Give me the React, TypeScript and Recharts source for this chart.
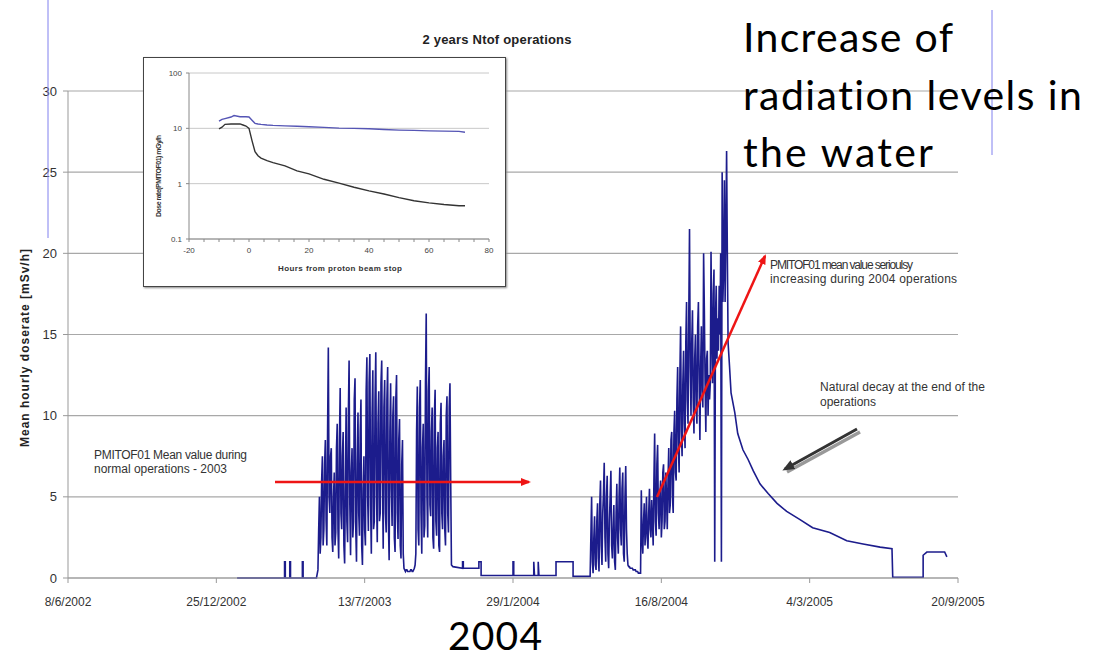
import { LineChart, Line, XAxis, YAxis, CartesianGrid } from "recharts";

const NARROW = "'Liberation Sans Narrow', 'Liberation Sans', Arial, sans-serif";
const SLIDE = "Lato, 'Open Sans', sans-serif";

// x values are days counted from 8/6/2002
const dateTicks = [0, 200, 400, 600, 800, 1000, 1200];
const dateLabels = ["8/6/2002", "25/12/2002", "13/7/2003", "29/1/2004", "16/8/2004", "4/3/2005", "20/9/2005"];
const doseTicks = [0, 5, 10, 15, 20, 25, 30];

const sampleStep = 1; // one reading per day in the busy periods

const idle2003: [number, number][] = [
  [228, 0], [292, 0], [292, 1.0], [293, 1.0], [293, 0], [299, 0], [299, 1.0], [300, 1.0], [300, 0],
  [316, 0], [316, 1.0], [317, 1.0], [317, 0], [335, 0],
];

const run2003Start = 337;
const run2003Dose = [
  0.5, 3.0, 5.0, 1.5, 2.5, 6.0, 7.5, 2.0, 3.0, 7.0,
  8.5, 3.5, 2.0, 9.0, 14.2, 5.0, 4.0, 7.5, 8.0, 2.5,
  1.6, 5.0, 6.5, 2.0, 2.8, 8.0, 9.5, 3.0, 1.2, 8.5,
  11.7, 4.0, 3.0, 7.5, 9.0, 2.0, 0.9, 6.0, 10.5, 3.5,
  2.2, 10.0, 13.4, 4.5, 1.4, 6.5, 8.0, 2.5, 3.5, 11.0,
  12.3, 3.0, 1.0, 7.0, 10.2, 4.0, 2.6, 9.0, 11.0, 2.0,
  0.8, 5.5, 7.5, 3.0, 2.0, 11.5, 13.6, 5.0, 2.9, 12.0,
  13.8, 4.5, 1.5, 10.0, 12.8, 3.0, 3.5, 11.0, 13.9, 5.0,
  2.2, 9.5, 11.5, 3.5, 4.0, 12.0, 13.4, 6.0, 1.8, 10.5,
  12.2, 4.0, 2.8, 11.0, 13.0, 3.5, 1.1, 9.0, 12.0, 5.5,
  3.2, 10.0, 11.2, 2.5, 1.6, 11.0, 12.5, 4.0, 2.4, 8.5,
  9.8, 2.0, 1.2, 7.0, 8.5, 1.5, 0.6, 0.5, 0.4, 0.5,
  0.5, 0.4, 0.4, 0.4, 0.4, 0.5, 0.5, 0.4, 0.4, 0.5,
  0.6, 0.8, 1.5, 9.0, 11.8, 3.0, 2.0, 10.5, 12.2, 4.0,
  1.5, 8.0, 9.5, 2.5, 3.2, 12.0, 16.3, 5.0, 2.5, 11.5,
  13.0, 4.5, 3.8, 9.0, 10.5, 2.5, 1.8, 10.0, 11.6, 3.5,
  2.6, 8.0, 9.0, 2.0, 1.6, 9.5, 10.8, 4.0, 3.0, 7.5,
  8.5, 3.0, 2.0, 10.0, 11.2, 4.0, 2.8, 10.5, 12.0, 6.0,
  0.8,
];

const idle2004: [number, number][] = [
  [519, 0.7], [532, 0.6], [532, 1.0], [533, 1.0], [533, 0.6], [554, 0.6], [554, 1.0], [557, 1.0],
  [557, 0.15], [600, 0.15], [600, 1.0], [601, 1.0], [601, 0.15], [628, 0.15], [628, 1.0], [629, 0.15],
  [634, 0.15], [634, 1.0], [635, 0.15], [658, 0.15], [658, 1.0], [681, 1.0], [681, 0.1], [704, 0.1],
];

const run2004Start = 706;
const run2004Dose = [
  5.0, 1.0, 0.3, 2.5, 3.8, 0.8, 0.5, 3.5, 4.6, 1.2,
  0.4, 4.5, 6.0, 2.0, 0.8, 4.0, 5.2, 7.1, 2.5, 1.0,
  5.0, 6.3, 1.5, 0.6, 3.5, 5.0, 6.6, 2.0, 1.2, 3.0,
  4.5, 1.0, 0.5, 4.0, 5.8, 2.5, 1.5, 5.0, 6.8, 3.0,
  2.0, 5.5, 6.5, 1.5, 1.0, 5.0, 6.9, 3.0, 1.5, 0.8,
  0.7, 0.7, 0.6, 0.6, 0.6, 0.6, 0.5, 0.5, 0.5, 0.5,
  0.4, 0.4, 0.4, 0.3, 0.3, 0.3, 0.3, 5.4, 2.5, 1.5,
  3.5, 4.6, 2.0, 3.0, 5.0, 2.5, 1.8, 4.0, 5.5, 3.0,
  2.5, 4.8, 3.5, 2.0, 6.0, 8.9, 3.5, 2.6, 7.0, 8.2,
  4.0, 3.0, 5.0, 6.0, 2.5, 3.5, 6.5, 7.0, 3.0, 3.5,
  6.5, 5.0, 3.0, 6.0, 8.0, 4.0, 4.5, 8.5, 9.0, 5.0,
  4.0, 9.0, 10.3, 6.5, 6.0, 11.0, 13.0, 8.0, 6.5, 12.5,
  15.5, 9.0, 7.5, 12.0, 14.0, 9.5, 8.0, 14.5, 17.0, 11.0,
  9.5, 16.0, 21.5, 13.0, 10.0, 14.5, 16.5, 11.0, 8.9, 13.5,
  15.0, 10.5, 9.5, 15.5, 17.0, 12.0, 8.5, 13.0, 15.5, 11.5,
  10.5, 20.0, 16.5, 12.0, 9.0, 13.5, 14.0, 10.0, 12.5, 11.0,
  12.0, 20.1, 15.0, 12.0, 17.5, 19.0, 1.0, 16.0, 18.0, 13.5,
  16.0, 14.0, 18.0, 15.0, 20.0, 1.0, 25.0, 17.0, 19.0, 24.5,
  17.0, 21.0, 26.3, 20.0, 14.5,
];

const decay2005: [number, number][] = [
  [892, 13.0], [894, 11.4], [899, 10.2], [903, 8.9], [910, 7.9], [917, 7.3], [924, 6.6], [933, 5.8],
  [944, 5.2], [956, 4.6], [969, 4.1], [987, 3.6], [1004, 3.1], [1027, 2.8], [1050, 2.3], [1072, 2.1],
  [1095, 1.9], [1111, 1.8], [1112, 0.05], [1153, 0.05], [1153, 1.4], [1158, 1.6], [1182, 1.6], [1185, 1.3],
];

// inset: hours from proton beam stop
const insetHours = [-10, -9, -8, -6, -5, -3, -2, -1, 0, 1, 2, 3, 4, 6, 8, 12, 16, 20, 25, 30, 35, 40, 45, 50, 55, 60, 65, 70, 72];
const insetUpper = [13.5, 14.5, 15, 16, 17, 16.2, 16.2, 16.2, 16, 14, 12.3, 12, 11.8, 11.5, 11.3, 11.1, 10.9, 10.7, 10.4, 10.1, 10, 9.8, 9.5, 9.3, 9.2, 9.0, 8.9, 8.8, 8.5];
const insetLower = [9.8, 10.5, 11.8, 12, 12, 12, 11.5, 11, 10, 6, 3.8, 3.2, 2.9, 2.6, 2.4, 2.1, 1.7, 1.5, 1.2, 1.02, 0.86, 0.74, 0.65, 0.56, 0.49, 0.45, 0.42, 0.4, 0.4];
const insetHourTicks = [-20, -15, -10, -5, 0, 5, 10, 15, 20, 25, 30, 35, 40, 45, 50, 55, 60, 65, 70, 75, 80];
const insetDoseTicks = [0.1, 1, 10, 100];

const doseData = [
  ...idle2003.map(([day, dose]) => ({ day, dose })),
  ...run2003Dose.map((dose, i) => ({ day: run2003Start + i * sampleStep, dose })),
  ...idle2004.map(([day, dose]) => ({ day, dose })),
  ...run2004Dose.map((dose, i) => ({ day: run2004Start + i * sampleStep, dose })),
  ...decay2005.map(([day, dose]) => ({ day, dose })),
];

const insetData = insetHours.map((h, i) => ({ h, upper: insetUpper[i], lower: insetLower[i] }));

const Inset = () => (
  <div
    style={{
      position: "absolute", left: 143, top: 57, width: 363, height: 230, boxSizing: "border-box",
      background: "#fff", border: "1px solid #444", boxShadow: "1px 1px 2px #888",
    }}
  >
    <LineChart width={361} height={228} data={insetData} margin={{ top: 15, right: 16, bottom: 29, left: 0 }}>
      <CartesianGrid horizontal vertical={false} stroke="#c8c8c8" />
      <XAxis
        type="number" dataKey="h" domain={[-20, 80]} ticks={insetHourTicks} interval={0} height={18}
        tickFormatter={(v) => (v % 20 === 0 ? String(v) : "")}
        tick={{ fontSize: 8, fill: "#444", fontFamily: NARROW }}
        tickSize={3} tickMargin={5} axisLine={{ stroke: "#888" }} tickLine={{ stroke: "#888" }}
      />
      <YAxis
        scale="log" domain={[0.1, 100]} ticks={insetDoseTicks} interval={0} width={45} allowDataOverflow
        tickFormatter={(v) => String(v)}
        tick={{ fontSize: 8, fill: "#444", fontFamily: NARROW }}
        tickSize={3} tickMargin={4} axisLine={{ stroke: "#888" }} tickLine={{ stroke: "#888" }}
      />
      <Line dataKey="upper" stroke="#5555b5" strokeWidth={1.4} dot={false} isAnimationActive={false} />
      <Line dataKey="lower" stroke="#333" strokeWidth={1.4} dot={false} isAnimationActive={false} />
    </LineChart>
  </div>
);

const Overlay = () => (
  <svg width={1095} height={659} style={{ position: "absolute", left: 0, top: 0, pointerEvents: "none" }}>
    <defs>
      <marker id="redHead" markerWidth="10" markerHeight="8" refX="8" refY="4" orient="auto" markerUnits="userSpaceOnUse">
        <path d="M0,0 L10,4 L0,8 z" fill="#ee1515" />
      </marker>
      <marker id="darkHead" markerWidth="12" markerHeight="10" refX="9" refY="5" orient="auto" markerUnits="userSpaceOnUse">
        <path d="M0,0 L12,5 L0,10 z" fill="#333" />
      </marker>
    </defs>

    {/* slide leftovers */}
    <line x1={48} y1={0} x2={48} y2={238} stroke="#8080ee" strokeWidth={1} />
    <line x1={992} y1={10} x2={992} y2={155} stroke="#8080ee" strokeWidth={1} />

    <text x={497} y={44} textAnchor="middle" fontFamily={NARROW} fontWeight="bold" fontSize={13} fill="#222" textLength={149}>
      2 years Ntof operations
    </text>

    <text transform="translate(29,348) rotate(-90)" textAnchor="middle" fontFamily={NARROW} fontWeight="bold" fontSize={12} fill="#222" textLength={198}>
      Mean hourly doserate [mSv/h]
    </text>

    <text transform="translate(161,176) rotate(-90)" textAnchor="middle" fontFamily={NARROW} fontWeight="bold" fontSize={7} fill="#333" textLength={82}>
      Dose rate(PMITOF01) mGy/h
    </text>
    <text x={340} y={271} textAnchor="middle" fontFamily={NARROW} fontWeight="bold" fontSize={8} fill="#333" textLength={124}>
      Hours from proton beam stop
    </text>

    <g fontFamily={NARROW} fontSize={12} fill="#333">
      <text x={94} y={459} textLength={153}>PMITOF01 Mean value during</text>
      <text x={94} y={473} textLength={133}>normal operations - 2003</text>
      <text x={770} y={269} textLength={143}>PMITOF01 mean value serioulsy</text>
      <text x={770} y={283} textLength={187}>increasing during 2004 operations</text>
      <text x={820} y={391} textLength={165}>Natural decay at the end of the</text>
      <text x={820} y={406} textLength={56}>operations</text>
    </g>

    <line x1={275} y1={482} x2={529} y2={482} stroke="#ee1515" strokeWidth={2.5} markerEnd="url(#redHead)" />
    <line x1={657} y1={497} x2={765} y2={256} stroke="#ee1515" strokeWidth={2.5} markerEnd="url(#redHead)" />
    <line x1={859} y1={430} x2={786} y2={470} stroke="#999" strokeWidth={3.5} transform="translate(1,2)" />
    <line x1={857} y1={429} x2={785} y2={469} stroke="#333" strokeWidth={3} markerEnd="url(#darkHead)" />

    <g fontFamily={SLIDE} fill="#000" style={{ fontVariantLigatures: "none" }}>
      <text x={743} y={52} fontSize={41} textLength={210}>Increase of</text>
      <text x={743} y={110} fontSize={41} textLength={339}>radiation levels in</text>
      <text x={743} y={167} fontSize={41} textLength={190}>the water</text>
      <text x={448} y={650} fontSize={39} textLength={94}>2004</text>
    </g>
  </svg>
);

export default function App() {
  return (
    <div style={{ position: "absolute", left: 0, top: 0, width: 1095, height: 659, background: "#fff", overflow: "hidden" }}>
      <LineChart width={1095} height={659} data={doseData} margin={{ top: 91, right: 137, bottom: 51, left: 0 }}>
        <CartesianGrid horizontal vertical={false} stroke="#a8a8a8" strokeWidth={1.2} />
        <XAxis
          type="number" dataKey="day" domain={[0, 1200]} ticks={dateTicks} interval={0} height={30}
          tickFormatter={(v) => dateLabels[dateTicks.indexOf(v)]}
          tick={{ fontSize: 12, fill: "#333", fontFamily: NARROW }}
          tickSize={5} tickMargin={14} axisLine={{ stroke: "#999" }} tickLine={{ stroke: "#999" }}
        />
        <YAxis
          type="number" domain={[0, 30]} ticks={doseTicks} interval={0} width={68}
          tick={{ fontSize: 13, fill: "#333", fontFamily: "'Liberation Sans', Arial, sans-serif" }}
          tickSize={5} tickMargin={6} axisLine={{ stroke: "#999" }} tickLine={{ stroke: "#999" }}
        />
        <Line type="linear" dataKey="dose" stroke="#1c1c8c" strokeWidth={1.6} strokeLinejoin="miter" dot={false} isAnimationActive={false} />
      </LineChart>
      <Inset />
      <Overlay />
    </div>
  );
}
